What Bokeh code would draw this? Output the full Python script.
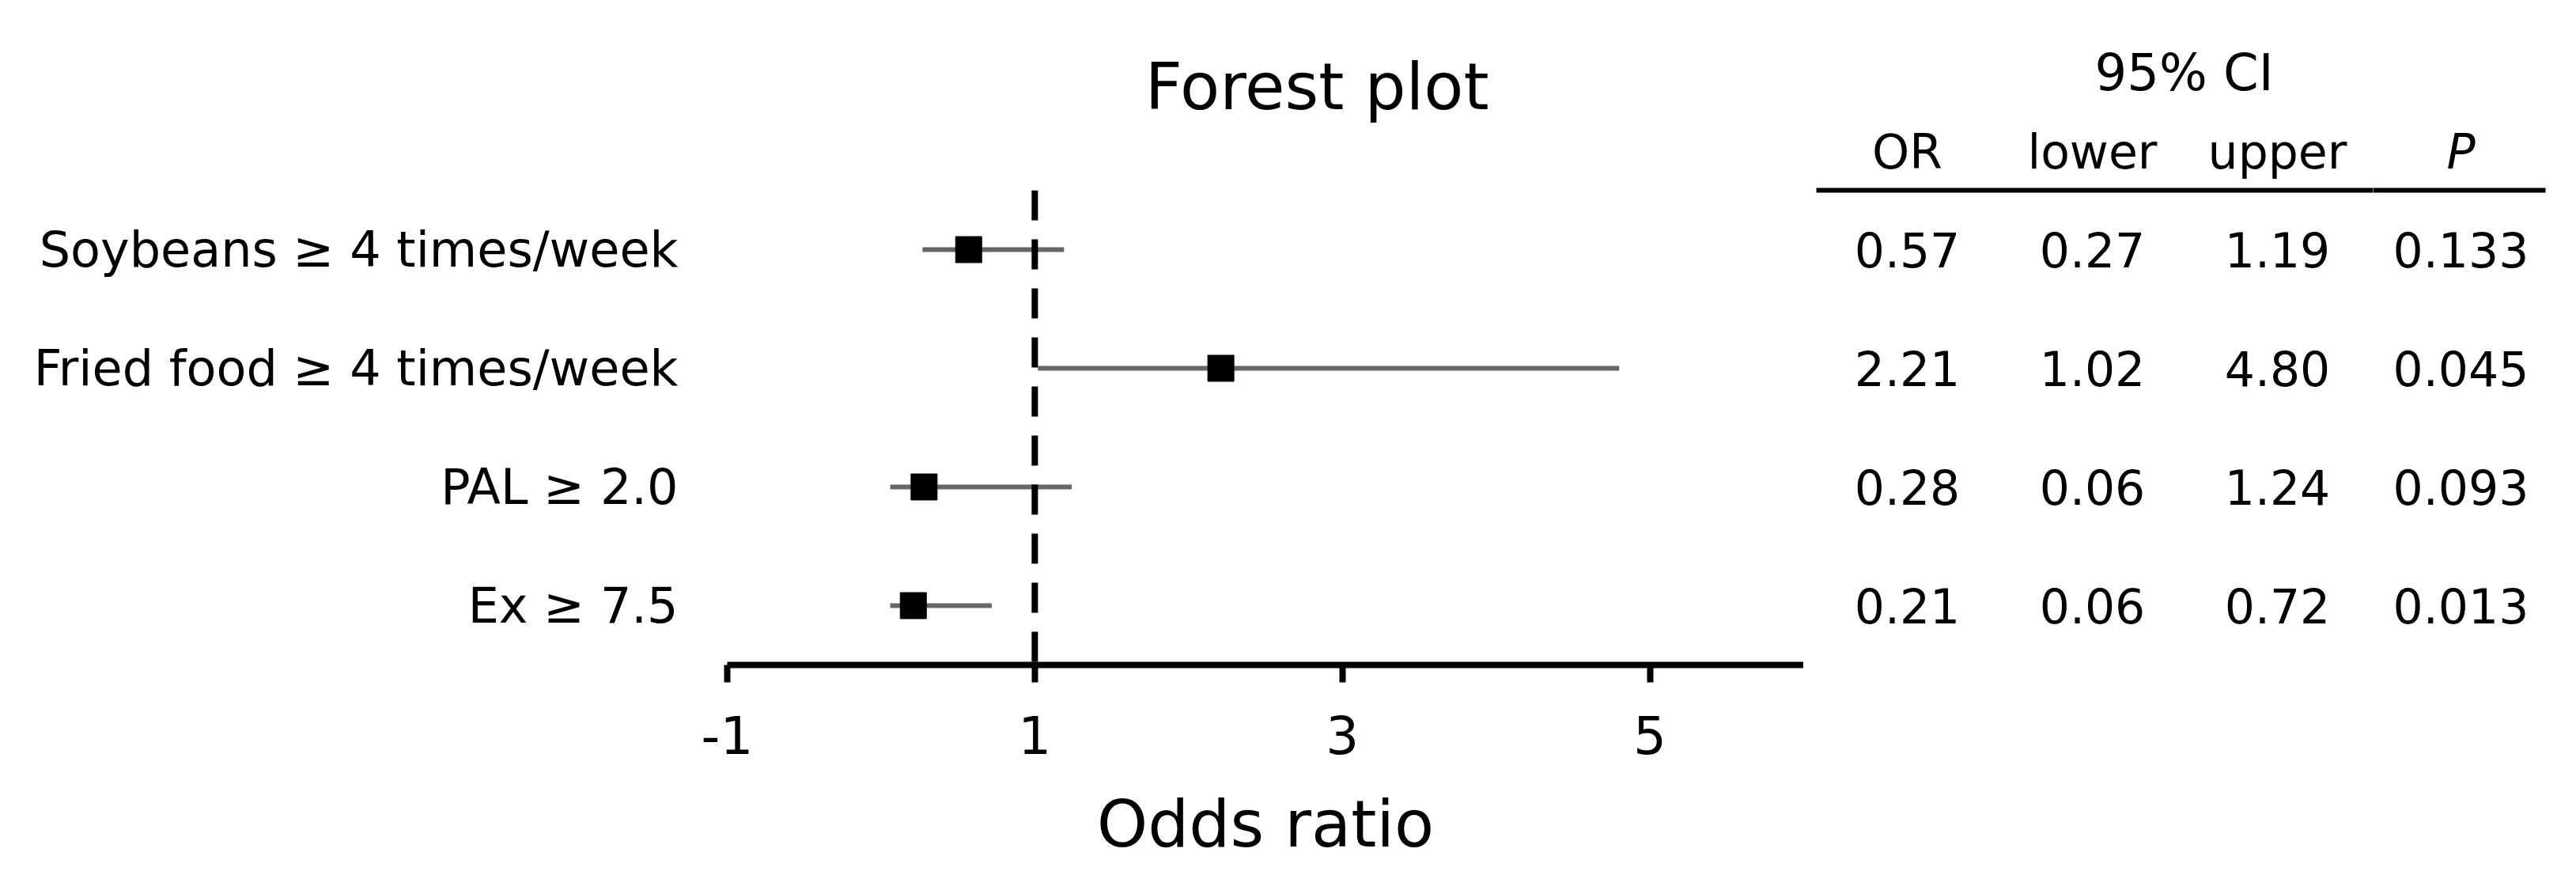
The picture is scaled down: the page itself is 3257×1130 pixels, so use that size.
from bokeh.plotting import figure
from bokeh.layouts import row
from bokeh.models import (Range1d, FactorRange, FixedTicker, Span, LinearAxis,
                          ColumnDataSource, PrintfTickFormatter)
from bokeh.core.properties import value
from bokeh.embed import file_html
from bokeh.resources import INLINE

# ---------------- data ----------------
factors = ["Soybeans \u2265 4 times/week", "Fried food \u2265 4 times/week",
           "PAL \u2265 2.0", "Ex \u2265 7.5"]
odds_ratio = [0.57, 2.21, 0.28, 0.21]
ci_lower = [0.27, 1.02, 0.06, 0.06]
ci_upper = [1.19, 4.80, 1.24, 0.72]
p_values = ["0.133", "0.045", "0.093", "0.013"]
x_ticks = [-1, 1, 3, 5]
col_headers = ["OR", "lower", "upper", "P"]
title_text = "Forest plot"
ci_header = "95% CI"
x_label = "Odds ratio"

FONT = "DejaVu Sans"
H = 1122
MAIN_W = 2280      # forest plot panel
CI_W = 720         # OR / lower / upper columns
P_W = 249          # P column

src = ColumnDataSource(dict(
    label=factors, or_=odds_ratio, lower=ci_lower, upper=ci_upper,
    or_txt=[f"{v:.2f}" for v in odds_ratio],
    lower_txt=[f"{v:.2f}" for v in ci_lower],
    upper_txt=[f"{v:.2f}" for v in ci_upper],
    p_txt=p_values,
))
yr = FactorRange(factors=list(reversed(factors)))

# ---------------- forest plot ----------------
p = figure(width=MAIN_W, height=H, x_range=Range1d(-1, 6), y_range=yr,
           output_backend="svg", toolbar_location=None,
           min_border_left=919, min_border_right=0,
           min_border_top=240, min_border_bottom=282)
p.outline_line_color = None
p.xgrid.grid_line_color = None
p.ygrid.grid_line_color = None

# title drawn as the label of an otherwise invisible top axis
# (leading no-break spaces shift the centred label slightly to the right)
top_ax = LinearAxis(ticker=FixedTicker(ticks=[]),
                    axis_line_color=None, major_tick_line_color=None,
                    minor_tick_line_color=None, major_tick_out=0,
                    major_tick_in=0, minor_tick_out=0, minor_tick_in=0,
                    major_label_standoff=0,
                    axis_label="\u00a0" * 5 + title_text,
                    axis_label_standoff=84, axis_label_text_font=FONT,
                    axis_label_text_font_size="82px",
                    axis_label_text_font_style="normal",
                    axis_label_text_color="black")
p.add_layout(top_ax, "above")

xa = p.below[0]
xa.ticker = FixedTicker(ticks=x_ticks)
xa.formatter = PrintfTickFormatter(format="%d")
xa.axis_line_width = 8
xa.axis_line_color = "black"
xa.major_tick_line_width = 8
xa.major_tick_line_color = "black"
xa.major_tick_out = 22
xa.major_tick_in = 0
xa.minor_tick_line_color = None
xa.major_label_text_font = FONT
xa.major_label_text_font_size = "66px"
xa.major_label_text_color = "black"
xa.major_label_standoff = 41
xa.axis_label = x_label
xa.axis_label_text_font = FONT
xa.axis_label_text_font_size = "82px"
xa.axis_label_text_font_style = "normal"
xa.axis_label_text_color = "black"
xa.axis_label_standoff = 38

ya = p.yaxis[0]
ya.axis_line_color = None
ya.major_tick_line_color = None
ya.minor_tick_line_color = None
ya.major_tick_out = 0
ya.major_tick_in = 0
ya.major_label_standoff = 62
ya.major_label_text_font = FONT
ya.major_label_text_font_size = "62px"
ya.major_label_text_color = "black"

p.add_layout(Span(location=1, dimension="height", line_color="black",
                  line_width=8, line_dash="38 24"))

p.segment(x0="lower", y0="label", x1="upper", y1="label", source=src,
          line_color="#666666", line_width=6)
p.scatter(x="or_", y="label", source=src, marker="square", size=33,
          fill_color="black", line_color="black")

# ---------------- table (x in page pixels, rows share the y range) --------
col_x = [2411, 2645, 2879, 3111]
col_fields = ["or_txt", "lower_txt", "upper_txt", "p_txt"]
RULE_L, RULE_R = 2296, 3218


def table_panel(width, x0, cols, headers, fields, italic, title=None,
                title_offset=0):
    t = figure(width=width, height=H, x_range=Range1d(x0, x0 + width),
               y_range=yr, x_axis_location="above", y_axis_location=None,
               output_backend="svg", toolbar_location=None,
               min_border_left=0, min_border_right=0,
               min_border_top=0, min_border_bottom=0)
    t.outline_line_color = None
    t.xgrid.grid_line_color = None
    t.ygrid.grid_line_color = None
    ax = t.xaxis[0]
    ax.ticker = FixedTicker(ticks=cols)
    ax.major_label_overrides = {c: h for c, h in zip(cols, headers)}
    ax.bounds = (max(x0, RULE_L), min(x0 + width, RULE_R))
    ax.axis_line_width = 6
    ax.axis_line_color = "black"
    ax.major_tick_line_color = None
    ax.minor_tick_line_color = None
    ax.major_tick_out = 0
    ax.major_tick_in = 0
    ax.major_label_standoff = 14
    ax.major_label_text_font = FONT
    ax.major_label_text_font_size = "60px"
    ax.major_label_text_color = "black"
    ax.major_label_text_font_style = "italic" if italic else "normal"
    for cx, fld in zip(cols, fields):
        t.text(x=cx, y="label", text=fld, source=src, text_align="center",
               text_baseline="middle", text_font=value(FONT),
               text_font_size="60px", text_color="black")
    if title:
        t.title.text = title
        t.title.align = "left"
        t.title.offset = title_offset
        t.title.standoff = 50
        t.title.text_font = FONT
        t.title.text_font_size = "64px"
        t.title.text_font_style = "normal"
        t.title.text_color = "black"
    return t


t_ci = table_panel(CI_W, MAIN_W, col_x[:3], col_headers[:3], col_fields[:3],
                   False, title=ci_header, title_offset=368)
t_p = table_panel(P_W, MAIN_W + CI_W, col_x[3:], col_headers[3:],
                  col_fields[3:], True)

layout = row(p, t_ci, t_p)
open("out.html", "w").write(file_html(layout, INLINE))
